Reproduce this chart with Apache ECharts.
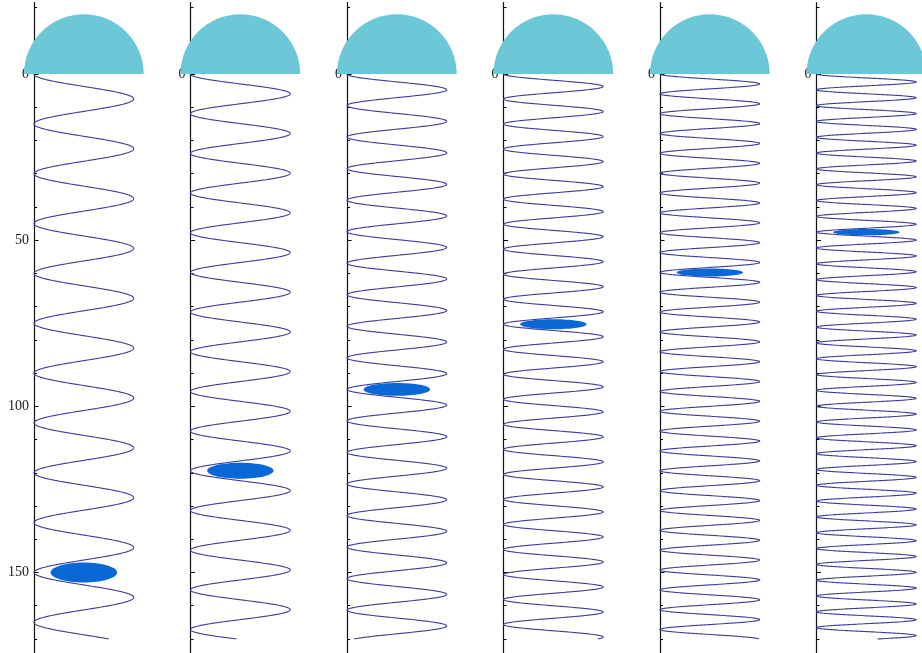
<!DOCTYPE html>
<html>
<head>
<meta charset="utf-8">
<script src="https://cdn.jsdelivr.net/npm/echarts@6/dist/echarts.min.js"></script>
<style>
  html, body { margin: 0; padding: 0; background: #fff; }
  #chart { width: 922px; height: 653px; }
</style>
</head>
<body>
<div id="chart"></div>
<script>
// depth of the hanging mass in each of the six snapshots
var massDepth = [150, 119.4, 94.9, 75.3, 59.7, 47.6];
// half height of the mass ellipse, it flattens as the spring shortens
var massHalfHeight = [3, 2.4, 1.9, 1.5, 1.2, 0.95];
var massHalfWidth = 10;
var coilsToMass = 10;
var springWidth = 30;
var springEnd = 170;
var domeRadius = 18;
var minorTicks = [-20, -10, 0, 10, 20, 30, 40, 50, 60, 70, 80, 90, 100, 110, 120, 130, 140, 150, 160, 170];
var majorTicks = [0, 50, 100, 150];
var firstPanelLabels = [0, 50, 100, 150];
var otherPanelLabels = [0];

var chart = echarts.init(document.getElementById("chart"));

// layout
var pxPerUnit = 3.3233;
var zeroY = 74;
var yMin = -21.5;
var yMax = 175;
var firstAxisX = 34;
var panelStep = 156.5;
var xMax = 33;

var grids = [], xAxes = [], yAxes = [], series = [];

function renderDome(params, api) {
  var c = api.coord([api.value(0), api.value(1)]);
  var r = api.size([domeRadius, 0])[0];
  return {
    type: "sector",
    shape: { cx: c[0], cy: c[1], r0: 0, r: r, startAngle: Math.PI, endAngle: 2 * Math.PI, clockwise: true },
    style: { fill: "#6cc8d6" }
  };
}

function renderSpring(params, api) {
  var mid = api.value(0);
  var depth = api.value(1);
  var pts = [];
  var step = 0.04;
  for (var y = 0; y <= springEnd + 1e-9; y += step) {
    var x = mid - (springWidth / 2) * Math.cos(2 * Math.PI * coilsToMass * y / depth);
    pts.push(api.coord([x, y]));
  }
  return {
    type: "polyline",
    shape: { points: pts },
    style: { stroke: "#3d3d9a", lineWidth: 1.1, fill: null }
  };
}

function renderMass(params, api) {
  var c = api.coord([api.value(0), api.value(1)]);
  var s = api.size([massHalfWidth, api.value(2)]);
  return {
    type: "ellipse",
    shape: { cx: c[0], cy: c[1], rx: s[0], ry: s[1] },
    style: { fill: "#0a68d6" }
  };
}

for (var i = 0; i < massDepth.length; i++) {
  grids.push({
    left: firstAxisX + panelStep * i,
    top: zeroY + yMin * pxPerUnit,
    width: xMax * pxPerUnit,
    height: (yMax - yMin) * pxPerUnit,
    containLabel: false,
    outerBoundsMode: "none"
  });
  xAxes.push({ gridIndex: i, type: "value", min: 0, max: xMax, show: false });
  // axis line + small ticks
  yAxes.push({
    gridIndex: i,
    type: "value",
    inverse: true,
    min: yMin,
    max: yMax,
    position: "left",
    axisLine: { show: true, onZero: false, lineStyle: { color: "#111", width: 1.2 } },
    axisTick: { show: true, inside: true, length: 3, customValues: minorTicks, lineStyle: { color: "#000" } },
    axisLabel: { show: false },
    splitLine: { show: false }
  });
  // longer ticks + labels
  yAxes.push({
    gridIndex: i,
    type: "value",
    inverse: true,
    min: yMin,
    max: yMax,
    position: "left",
    axisLine: { show: false, onZero: false },
    axisTick: { show: true, inside: true, length: 4.5, customValues: majorTicks, lineStyle: { color: "#000" } },
    axisLabel: {
      show: true,
      customValues: i === 0 ? firstPanelLabels : otherPanelLabels,
      fontFamily: "Liberation Serif",
      fontSize: 14,
      color: "#1a1a1a",
      margin: 5
    },
    splitLine: { show: false }
  });

  series.push({
    type: "custom",
    xAxisIndex: i,
    yAxisIndex: i * 2,
    clip: false,
    silent: true,
    renderItem: renderDome,
    data: [[springWidth / 2, 0]]
  });
  series.push({
    type: "custom",
    xAxisIndex: i,
    yAxisIndex: i * 2,
    clip: false,
    silent: true,
    renderItem: renderSpring,
    data: [[springWidth / 2, massDepth[i]]]
  });
  series.push({
    type: "custom",
    xAxisIndex: i,
    yAxisIndex: i * 2,
    clip: false,
    silent: true,
    renderItem: renderMass,
    data: [[springWidth / 2, massDepth[i], massHalfHeight[i]]]
  });
}

chart.setOption({
  animation: false,
  grid: grids,
  xAxis: xAxes,
  yAxis: yAxes,
  series: series
});
</script>
</body>
</html>
